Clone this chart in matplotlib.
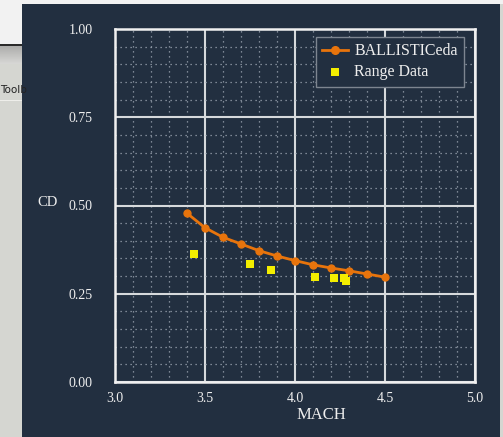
import matplotlib
matplotlib.use("Agg")
import matplotlib.pyplot as plt
from matplotlib.patches import Rectangle
from matplotlib.ticker import MultipleLocator
import numpy as np

# Drag coefficient vs Mach
mach_model = [3.4, 3.5, 3.6, 3.7, 3.8, 3.9, 4.0, 4.1, 4.2, 4.3, 4.4, 4.5]
cd_model = [0.478, 0.437, 0.410, 0.391, 0.372, 0.357, 0.344, 0.332, 0.323, 0.315, 0.306, 0.297]

mach_range = [3.437, 3.75, 3.867, 4.109, 4.217, 4.272, 4.281]
cd_range = [0.363, 0.335, 0.316, 0.298, 0.296, 0.294, 0.286]

x_ticks = [3.0, 3.5, 4.0, 4.5, 5.0]
y_ticks = [0.00, 0.25, 0.50, 0.75, 1.00]

W, H = 503, 437
NAVY = "#222f40"
SERIF = ["Liberation Serif", "DejaVu Serif"]

fig = plt.figure(figsize=(W / 100, H / 100), dpi=100, facecolor="#d5d6d1")

def px_rect(x0, y0, x1, y1, **kw):
    """Rectangle given in pixel coordinates (origin top-left)."""
    fig.patches.append(Rectangle((x0 / W, 1 - y1 / H), (x1 - x0) / W, (y1 - y0) / H,
                                 transform=fig.transFigure, figure=fig, zorder=-10, **kw))

# window chrome on the left
px_rect(0, 0, W, 4, facecolor="#f2f2f2", edgecolor="none")
px_rect(0, 0, 22, 45, facecolor="#f2f2f2", edgecolor="none")
px_rect(0, 44, 22, 46, facecolor="#2a2a2a", edgecolor="none")
grad = np.linspace(0, 1, 18)
for i, g in enumerate(grad):
    c = 0.68 + 0.16 * g
    px_rect(0, 46 + i, 22, 47 + i, facecolor=(c, c, c * 0.99), edgecolor="none")
px_rect(0, 100, 22, 101, facecolor="#eeeeea", edgecolor="none")
fig.text(0 / W, 1 - 90 / H, "Toolb", fontsize=7.5, color="#222222",
         family="DejaVu Sans", va="center", ha="left")

# dark panel
px_rect(22, 4, 500, H, facecolor=NAVY, edgecolor="none")

ax = fig.add_axes([115 / W, 1 - 382 / H, 360 / W, 353 / H])
ax.set_facecolor(NAVY)

ax.set_xlim(3.0, 5.0)
ax.set_ylim(0.0, 1.0)
ax.set_xticks(x_ticks)
ax.set_yticks(y_ticks)
ax.set_xticklabels([f"{v:.1f}" for v in x_ticks], family=SERIF, fontsize=10, color="#eeeeee")
ax.set_yticklabels([f"{v:.2f}" for v in y_ticks], family=SERIF, fontsize=10, color="#eeeeee")
ax.xaxis.set_minor_locator(MultipleLocator(0.1))
ax.yaxis.set_minor_locator(MultipleLocator(0.05))
ax.tick_params(which="both", length=0)
ax.tick_params(axis="y", pad=16)
ax.tick_params(axis="x", pad=7)

ax.grid(which="major", color="#d6d9dc", linewidth=1.5, linestyle="-")
ax.grid(which="minor", color="#9aa4b0", linewidth=0.9, linestyle=(0, (1, 3)))
ax.set_axisbelow(True)

for s in ax.spines.values():
    s.set_color("#f0f0f0")
    s.set_linewidth(1.8)

ax.plot(mach_model, cd_model, color="#e8740c", linewidth=2.0, marker="o",
        markersize=5, label="BALLISTICeda", zorder=3)
ax.scatter(mach_range, cd_range, marker="s", s=30, color="#f4ee00",
           linewidths=0, label="Range Data", zorder=4)

fig.text(321 / W, 1 - 415 / H, "MACH", family=SERIF, fontsize=12, color="#eeeeee",
         ha="center", va="center")
fig.text(48 / W, 1 - 202 / H, "CD", family=SERIF, fontsize=10.5, color="#eeeeee",
         ha="center", va="center")

leg = ax.legend(loc="upper right", bbox_to_anchor=((464 - 115) / 360, (382 - 37) / 353),
                borderaxespad=0, fancybox=False, framealpha=1, facecolor=NAVY,
                edgecolor="#7d8590", prop={"family": SERIF, "size": 11.5},
                handlelength=1.6, handletextpad=0.4, labelspacing=0.3,
                borderpad=0.4, markerscale=1.1)
for t in leg.get_texts():
    t.set_color("#eeeeee")
leg.get_frame().set_linewidth(1.0)

fig.savefig("out.png", dpi=100, facecolor=fig.get_facecolor())
